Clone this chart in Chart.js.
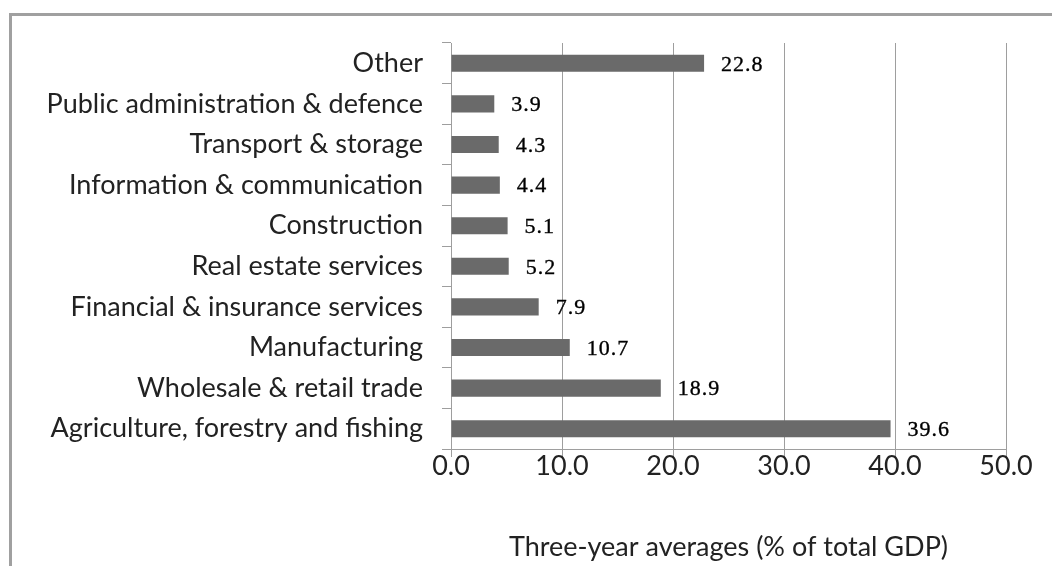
<!DOCTYPE html>
<html>
<head>
<meta charset="utf-8">
<script src="https://cdn.jsdelivr.net/npm/chart.js@4.4.1/dist/chart.umd.min.js"></script>
<style>
  html, body { margin: 0; padding: 0; background: #ffffff; }
  #wrap { position: relative; width: 1052px; height: 566px; overflow: hidden; }
  #frame {
    position: absolute; left: 9px; top: 13px; width: 1100px; height: 600px;
    border-left: 3px solid #a0a0a0; border-top: 3px solid #a0a0a0;
  }
  #chart { position: absolute; left: 0; top: 0; }
</style>
</head>
<body>
<div id="wrap">
  <div id="frame"></div>
  <canvas id="chart" width="1052" height="566"></canvas>
</div>
<script>
// Sectors, listed top to bottom
const sectors = [
  'Other',
  'Public administration & defence',
  'Transport & storage',
  'Information & communication',
  'Construction',
  'Real estate services',
  'Financial & insurance services',
  'Manufacturing',
  'Wholesale & retail trade',
  'Agriculture, forestry and fishing'
];

// Share of total GDP, three-year averages (%)
const gdpShare = [22.8, 3.9, 4.3, 4.4, 5.1, 5.2, 7.9, 10.7, 18.9, 39.6];

// Value axis
const axisMin = 0;
const axisMax = 50;
const axisStep = 10;
const axisTitle = 'Three-year averages (% of total GDP)';

const sansFont = "Lato, 'Open Sans', sans-serif";
const gridGrey = '#9e9e9e';
const textColor = '#222222';

// Prints each bar's value just past its end
const valueLabels = {
  id: 'valueLabels',
  afterDatasetsDraw(chart) {
    const ctx = chart.ctx;
    const xs = chart.scales.x;
    const meta = chart.getDatasetMeta(0);
    const values = chart.data.datasets[0].data;
    ctx.save();
    ctx.font = "22px 'Liberation Serif', 'Times New Roman', serif";
    ctx.letterSpacing = '1px';
    ctx.fillStyle = '#000000';
    ctx.strokeStyle = '#000000';
    ctx.lineWidth = 0.35;
    ctx.textAlign = 'left';
    ctx.textBaseline = 'middle';
    meta.data.forEach((bar, i) => {
      const v = values[i];
      const x = xs.getPixelForValue(v) + 17;
      const label = v.toFixed(1);
      ctx.fillText(label, x, bar.y + 1.5);
      ctx.strokeText(label, x, bar.y + 1.5);
    });
    ctx.restore();
  }
};

new Chart(document.getElementById('chart'), {
  type: 'bar',
  data: {
    labels: sectors,
    datasets: [{
      data: gdpShare,
      backgroundColor: '#6a6a6a',
      borderWidth: 0,
      categoryPercentage: 1.0,
      barPercentage: 0.42
    }]
  },
  options: {
    responsive: false,
    animation: false,
    indexAxis: 'y',
    layout: { padding: { top: 43, right: 46, left: 0, bottom: 0 } },
    plugins: {
      legend: { display: false },
      tooltip: { enabled: false },
      title: { display: false }
    },
    scales: {
      x: {
        min: axisMin,
        max: axisMax,
        ticks: {
          stepSize: axisStep,
          callback: (v) => Number(v).toFixed(1),
          font: { family: sansFont, size: 27 },
          color: textColor,
          padding: -7,
          maxRotation: 0
        },
        grid: { color: gridGrey, lineWidth: 1, tickLength: 8 },
        border: { color: gridGrey, width: 1 },
        title: {
          display: true,
          text: axisTitle,
          font: { family: sansFont, size: 27 },
          color: textColor,
          padding: { top: 0, bottom: 3 }
        },
        afterFit: (s) => { s.height = 117; }
      },
      y: {
        grid: { drawOnChartArea: false, tickLength: 9, color: gridGrey, offset: true },
        border: { color: gridGrey, width: 1 },
        ticks: {
          font: { family: sansFont, size: 27 },
          color: textColor,
          padding: 19
        },
        afterFit: (s) => { s.width = 451; }
      }
    }
  },
  plugins: [valueLabels]
});
</script>
</body>
</html>
